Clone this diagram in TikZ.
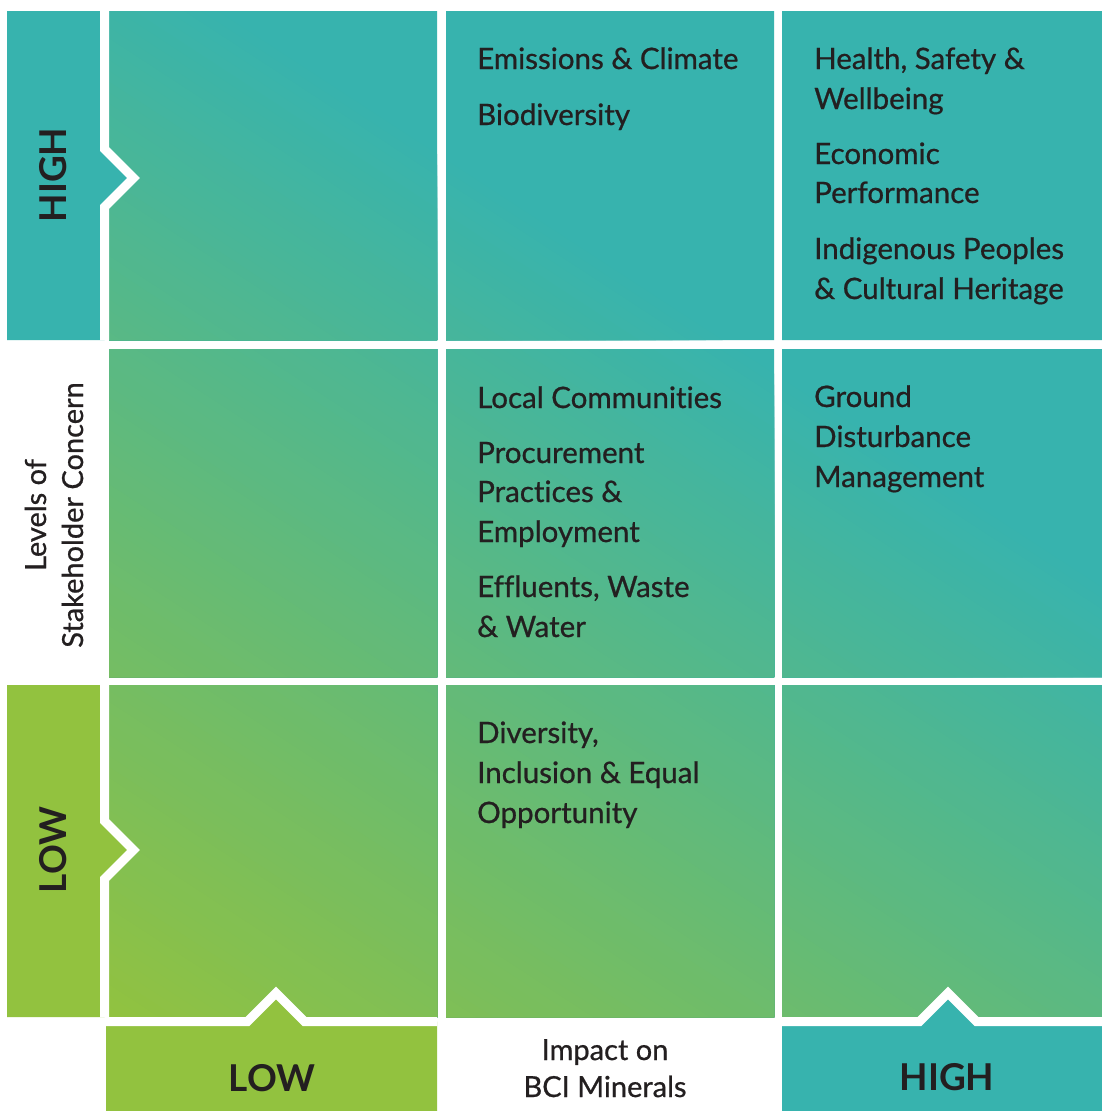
\documentclass[tikz,border=0pt]{standalone}
\usepackage{fontspec}
\setmainfont{Lato}
\newfontfamily\topicfont{Lato}[FakeBold=0.7, Ligatures=NoCommon]
\definecolor{cteal}{HTML}{37B3AE}
\definecolor{cgreen}{HTML}{92C23F}
\definecolor{ink}{HTML}{231F20}

\begin{document}
\begin{tikzpicture}[x=1pt,y=-1pt,
  item/.style={anchor=base west, inner sep=0pt, text=ink, font=\topicfont\fontsize{29.5}{35}\selectfont},
  axislbl/.style={anchor=base, inner sep=0pt, text=ink, font=\topicfont\fontsize{29}{35}\selectfont},
  levellbl/.style={anchor=base, inner sep=0pt, text=ink, font=\bfseries\fontsize{37}{40}\selectfont},
  gap/.style={draw=white, line width=9pt, line join=miter, miter limit=10},
]
\useasboundingbox (0,0) rectangle (1102,1111);
\fill[white] (0,0) rectangle (1102,1111);

% nine cells, filled with one diagonal green-to-teal gradient
\begin{scope}
  \clip (109,11) rectangle (437,340) (446,11) rectangle (774,340) (782,11) rectangle (1102,340)
        (109,349) rectangle (437,677) (446,349) rectangle (774,677) (782,349) rectangle (1102,677)
        (109,685) rectangle (437,1017) (446,685) rectangle (774,1017) (782,685) rectangle (1102,1017);
  \fill[cteal] (109,11) rectangle (1102,1017);
  \foreach \k in {1,...,100} {
    \pgfmathsetmacro\qx{607-0.546*9.11*\k}
    \pgfmathsetmacro\qy{254+0.838*9.11*\k}
    \fill[cgreen!\k!cteal] ({\qx+1676},{\qy+1092}) -- ({\qx-1676},{\qy-1092})
      -- ({\qx-1676-1092},{\qy-1092+1676}) -- ({\qx+1676-1092},{\qy+1092+1676}) -- cycle;
  }
\end{scope}

% vertical axis bands with their pointers
\fill[cteal] (7,11) -- (104.5,11) -- (104.5,149) -- (133.5,178) -- (104.5,207) -- (104.5,340) -- (7,340) -- cycle;
\draw[gap] (104.5,11) -- (104.5,149) -- (133.5,178) -- (104.5,207) -- (104.5,340);
\fill[cgreen] (7,685) -- (104.5,685) -- (104.5,821) -- (133.5,850) -- (104.5,879) -- (104.5,1017) -- (7,1017) -- cycle;
\draw[gap] (104.5,685) -- (104.5,821) -- (133.5,850) -- (104.5,879) -- (104.5,1017);

% horizontal axis bands with their pointers
\fill[cgreen] (106,1021.5) -- (247.5,1021.5) -- (276,993) -- (304.5,1021.5) -- (437,1021.5) -- (437,1111) -- (106,1111) -- cycle;
\draw[gap] (106,1021.5) -- (247.5,1021.5) -- (276,993) -- (304.5,1021.5) -- (437,1021.5);
\fill[cteal] (782,1021.5) -- (919.5,1021.5) -- (948,993) -- (976.5,1021.5) -- (1102,1021.5) -- (1102,1111) -- (782,1111) -- cycle;
\draw[gap] (782,1021.5) -- (919.5,1021.5) -- (948,993) -- (976.5,1021.5) -- (1102,1021.5);

% axis labels
\node[levellbl, rotate=90] (yhigh) at (66,175) {HIGH};
\node[levellbl, rotate=90] (ylow) at (66,850) {LOW};
\node[axislbl, rotate=90] (ytitleA) at (46,515) {Levels of};
\node[axislbl, rotate=90] (ytitleB) at (83,515) {Stakeholder Concern};
\node[levellbl] (xlow) at (272,1091) {LOW};
\node[levellbl] (xhigh) at (947,1090) {HIGH};
\node[axislbl] (xtitleA) at (605,1060) {Impact on};
\node[axislbl] (xtitleB) at (605,1097) {BCI Minerals};

% topics: high concern, medium impact
\node[item] (emi) at (477,69) {Emissions \& Climate};
\node[item] (bio) at (477,125) {Biodiversity};
% topics: high concern, high impact
\node[item] (hsA) at (814,69) {Health, Safety \&};
\node[item] (hsB) at (814,109) {Wellbeing};
\node[item] (ecoA) at (814,164) {Economic};
\node[item] (ecoB) at (814,203) {Performance};
\node[item] (indA) at (814,259) {Indigenous Peoples};
\node[item] (indB) at (814,299) {\& Cultural Heritage};
% topics: medium concern, medium impact
\node[item] (loc) at (477,408) {Local Communities};
\node[item] (proA) at (477,463) {Procurement};
\node[item] (proB) at (477,502) {Practices \&};
\node[item] (proC) at (477,542) {Employment};
\node[item] (effA) at (477,597) {Effluents, Waste};
\node[item] (effB) at (477,637) {\& Water};
% topics: medium concern, high impact
\node[item] (grA) at (814,407) {Ground};
\node[item] (grB) at (814,447) {Disturbance};
\node[item] (grC) at (814,487) {Management};
% topics: low concern, medium impact
\node[item] (divA) at (477,743) {Diversity,};
\node[item] (divB) at (477,783) {Inclusion \& Equal};
\node[item] (divC) at (477,823) {Opportunity};
\end{tikzpicture}
\end{document}
